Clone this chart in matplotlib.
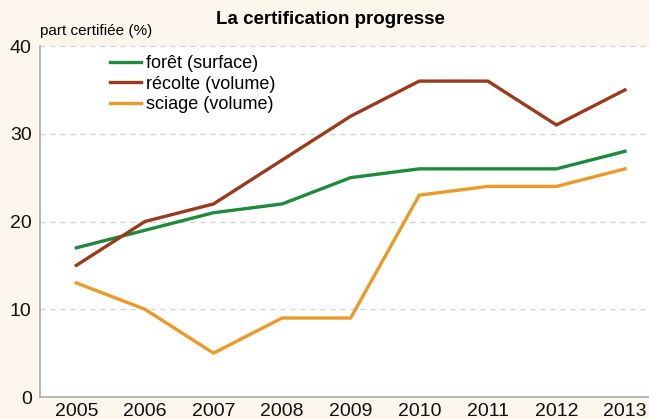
import matplotlib
matplotlib.use("Agg")
import matplotlib.pyplot as plt
from matplotlib import font_manager

years = [2005, 2006, 2007, 2008, 2009, 2010, 2011, 2012, 2013]
foret = [17, 19, 21, 22, 25, 26, 26, 26, 28]
recolte = [15, 20, 22, 27, 32, 36, 36, 31, 35]
sciage = [13, 10, 5, 9, 9, 23, 24, 24, 26]
series_names = ["forêt (surface)", "récolte (volume)", "sciage (volume)"]
yticks = [0, 10, 20, 30, 40]

names = {f.name for f in font_manager.fontManager.ttflist}
fam = "Liberation Sans Narrow" if "Liberation Sans Narrow" in names else "Liberation Sans"
plt.rcParams['font.family'] = [fam, 'DejaVu Sans']

bg = "#fdf6ec"
fig = plt.figure(figsize=(6.49, 4.19), dpi=100, facecolor=bg)
ax = fig.add_axes([40/649, 22/419, 609/649, 351/419])
ax.set_facecolor("white")

colors = ["#1e8a3c", "#9a3a1c", "#eb9a2a"]
for vals, name, c in zip([foret, recolte, sciage], series_names, colors):
    ax.plot(years, vals, color=c, lw=2.4, label=name, solid_joinstyle='miter')

ax.set_xlim(2004.47, 2013.35)
ax.set_ylim(0, 40)
ax.set_yticks(yticks)
ax.set_xticks(years)
ax.tick_params(axis='both', labelsize=14, length=0, colors="#111111")
ax.tick_params(axis='y', pad=6)
ax.tick_params(axis='x', pad=4)
ax.yaxis.grid(True, linestyle=(0, (4, 4)), color="#cfcfcf", lw=0.9)
ax.set_axisbelow(True)
for s in ['top', 'right']:
    ax.spines[s].set_visible(False)
for s in ['left', 'bottom']:
    ax.spines[s].set_color("#aaaaaa")
    ax.spines[s].set_linewidth(1.2)

leg = ax.legend(loc='upper left', bbox_to_anchor=(0.1, 1.0), frameon=False,
                fontsize=13, handlelength=1.7, handletextpad=0.3,
                labelspacing=0.2, borderaxespad=0.1)

fig.text(40/649, 1 - 31/419, "part certifiée (%)", fontsize=11, ha='left', va='center')
fig.text(330/649, 1 - 20/419, "La certification progresse", fontsize=13.5,
         fontweight='bold', ha='center', va='center', family=['Liberation Sans', 'DejaVu Sans'])

fig.savefig("out.png", dpi=100, facecolor=bg)
